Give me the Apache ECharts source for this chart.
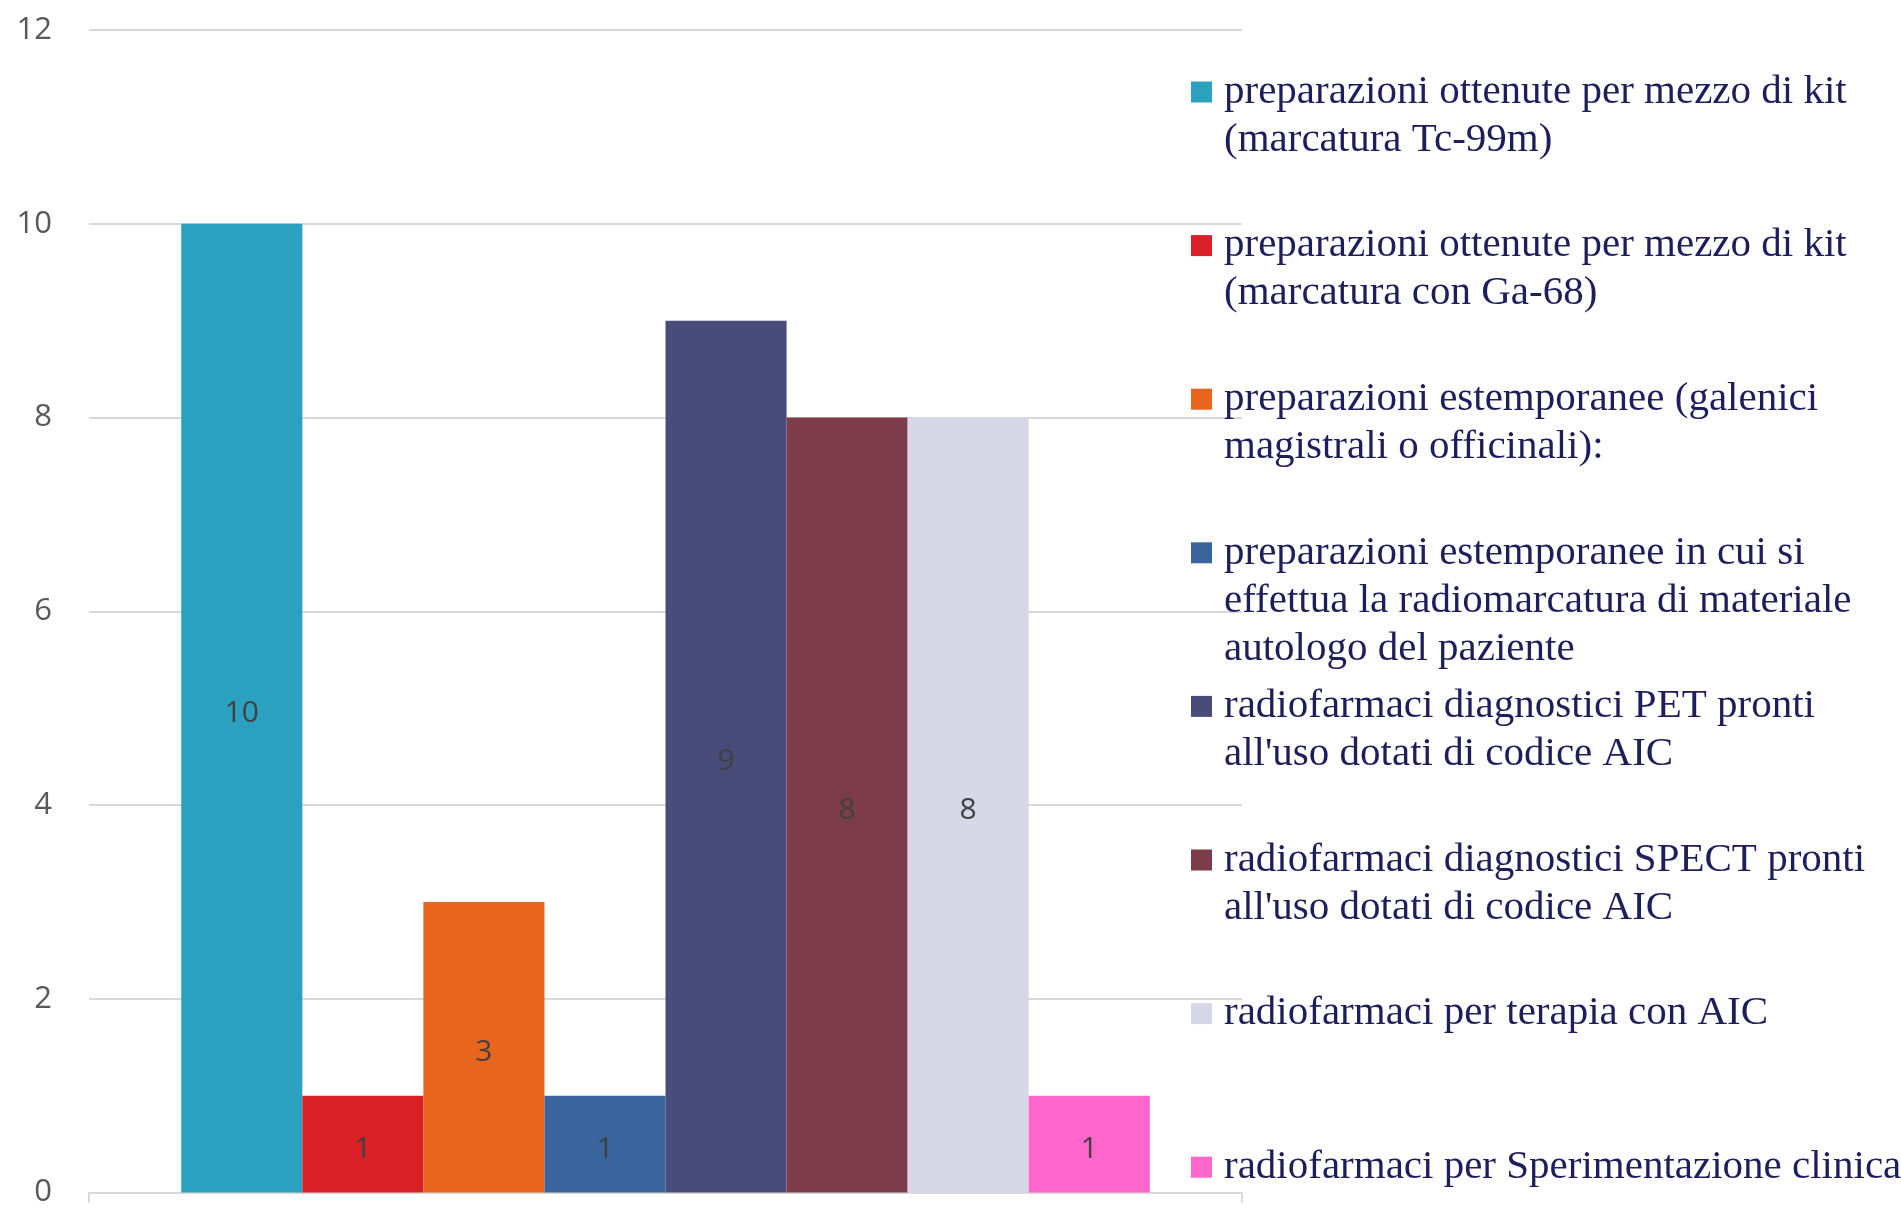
<!DOCTYPE html>
<html>
<head>
<meta charset="utf-8">
<script src="https://cdn.jsdelivr.net/npm/echarts@6/dist/echarts.min.js"></script>
<style>
html,body{margin:0;padding:0;background:#fff;}
#chart{width:1901px;height:1208px;}
</style>
</head>
<body>
<div id="chart"></div>
<script>
const categories = [''];
const seriesNames = [
  'preparazioni ottenute per mezzo di kit\n(marcatura Tc-99m)',
  'preparazioni ottenute per mezzo di kit\n(marcatura con Ga-68)',
  'preparazioni estemporanee (galenici\nmagistrali o officinali):',
  'preparazioni estemporanee in cui si\neffettua la radiomarcatura di materiale\nautologo del paziente',
  'radiofarmaci diagnostici PET pronti\nall\'uso dotati di codice AIC',
  'radiofarmaci diagnostici SPECT pronti\nall\'uso dotati di codice AIC',
  'radiofarmaci per terapia con AIC',
  'radiofarmaci per Sperimentazione clinica'
];
const seriesValues = [10, 1, 3, 1, 9, 8, 8, 1];
const seriesColors = ['#2CA1BF', '#D91F27', '#E8651D', '#3A649C', '#494C78', '#7D3C4A', '#D6D8E7', '#FF66CC'];
const yTicks = { min: 0, max: 12, interval: 2 };

const chart = echarts.init(document.getElementById('chart'), null, { renderer: 'canvas' });

const LINE_H = 48;
const FONT = 41;
const firstIconCenter = 92;
const legendStep = 153.6;

const legends = seriesNames.map((name, i) => {
  const nLines = name.split('\n').length;
  const totalLines = 2 * nLines - 1;
  return {
    show: true,
    data: [name],
    orient: 'vertical',
    left: 1191,
    top: firstIconCenter + i * legendStep - totalLines * LINE_H / 2,
    padding: 0,
    icon: 'rect',
    itemWidth: 21,
    itemHeight: 21,
    selectedMode: false,
    formatter: function (n) {
      return '\n'.repeat(nLines - 1) + n;
    },
    textStyle: {
      fontFamily: 'Liberation Serif',
      fontSize: FONT,
      lineHeight: LINE_H,
      color: '#1F1E5C',
      padding: [0, 0, 0, 7]
    }
  };
});

const series = seriesNames.map((name, i) => ({
  name: name,
  type: 'bar',
  data: [seriesValues[i]],
  barGap: '0%',
  barCategoryGap: '16%',
  itemStyle: { color: seriesColors[i] },
  label: {
    show: true,
    position: 'inside',
    offset: [0, 5],
    color: '#404040',
    fontFamily: 'Open Sans',
    fontSize: 30
  }
}));

chart.setOption({
  animation: false,
  backgroundColor: '#ffffff',
  grid: { left: 89, right: 659, top: 30, bottom: 8, containLabel: false },
  legend: legends,
  xAxis: {
    type: 'category',
    data: categories,
    axisLine: { show: true, lineStyle: { color: '#D9D9D9', width: 2 } },
    axisTick: { show: true, length: 10, lineStyle: { color: '#D9D9D9', width: 2 } },
    axisLabel: { show: false },
    splitLine: { show: false }
  },
  yAxis: {
    type: 'value',
    min: yTicks.min,
    max: yTicks.max,
    interval: yTicks.interval,
    axisLine: { show: false },
    axisTick: { show: false },
    axisLabel: {
      color: '#595959',
      fontFamily: 'Open Sans',
      fontSize: 31,
      margin: 37,
      padding: [0, 0, 12, 0]
    },
    splitLine: { show: true, lineStyle: { color: '#D9D9D9', width: 2 } }
  },
  series: series
});
</script>
</body>
</html>
